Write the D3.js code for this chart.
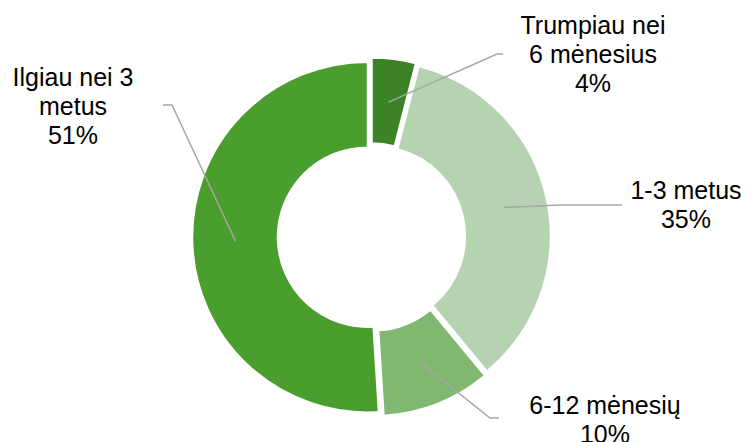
<!DOCTYPE html>
<html>
<head>
<meta charset="utf-8">
<script src="https://cdn.jsdelivr.net/npm/d3@7/dist/d3.min.js"></script>
<style>
  html, body { margin: 0; padding: 0; background: #fff; }
  svg { display: block; }
  text { font-family: "Liberation Sans", Arial, sans-serif; fill: #000; }
</style>
</head>
<body>
<svg id="chart" width="747" height="442"></svg>
<script>
// ---- data ----
const categories = ["Trumpiau nei 6 mėnesius", "1-3 metus", "6-12 mėnesių", "Ilgiau nei 3 metus"];
const values = [4, 35, 10, 51];
const labelLines = [
  ["Trumpiau nei", "6 mėnesius", "4%"],
  ["1-3 metus", "35%"],
  ["6-12 mėnesių", "10%"],
  ["Ilgiau nei 3", "metus", "51%"]
];
const colors = ["#3b8326", "#b5d3b1", "#80b872", "#4a9e2e"];

// ---- layout (not data) ----
const W = 747, H = 442;
const cx = 371.5, cy = 237;
const rOuter = 175, rInner = 90, explode = 4;
const labelLayout = [
  { x: 593, y: 33.5, elbow: [497, 54], end: [503, 54] },
  { x: 686, y: 198.5, elbow: [560, 205], end: [622, 205] },
  { x: 605, y: 413.5, elbow: [490, 418], end: [499, 418] },
  { x: 73, y: 85.5, elbow: [172, 105], end: [163, 105] }
];
const lineH = 29;

const svg = d3.select("#chart");
svg.append("rect").attr("width", W).attr("height", H).attr("fill", "#fff");

const pie = d3.pie().sort(null).value(d => d.v).startAngle(0).endAngle(2 * Math.PI);
const arcs = pie(categories.map((c, i) => ({ c, v: values[i], i })));
const arc = d3.arc().innerRadius(rInner).outerRadius(rOuter);

const g = svg.append("g").attr("transform", `translate(${cx},${cy})`);

g.selectAll("path.slice")
  .data(arcs)
  .enter().append("path")
  .attr("class", "slice")
  .attr("d", arc)
  .attr("fill", d => colors[d.data.i])
  .attr("stroke", "#fff")
  .attr("stroke-width", 1.5)
  .attr("transform", d => {
    const a = (d.startAngle + d.endAngle) / 2;
    return `translate(${explode * Math.sin(a)},${-explode * Math.cos(a)})`;
  });

// leader lines
const leaderR = 136;
arcs.forEach((d, i) => {
  const a = (d.startAngle + d.endAngle) / 2;
  const sx = cx + leaderR * Math.sin(a), sy = cy - leaderR * Math.cos(a);
  const L = labelLayout[i];
  svg.append("path")
    .attr("d", d3.line()([[sx, sy], L.elbow, L.end]))
    .attr("fill", "none")
    .attr("stroke", "#a6a6a6")
    .attr("stroke-width", 1.5);
});

// labels
labelLayout.forEach((L, i) => {
  const t = svg.append("text")
    .attr("text-anchor", "middle")
    .attr("font-size", 25);
  labelLines[i].forEach((s, k) => {
    t.append("tspan").attr("x", L.x).attr("y", L.y + k * lineH).text(s);
  });
});
</script>
</body>
</html>
